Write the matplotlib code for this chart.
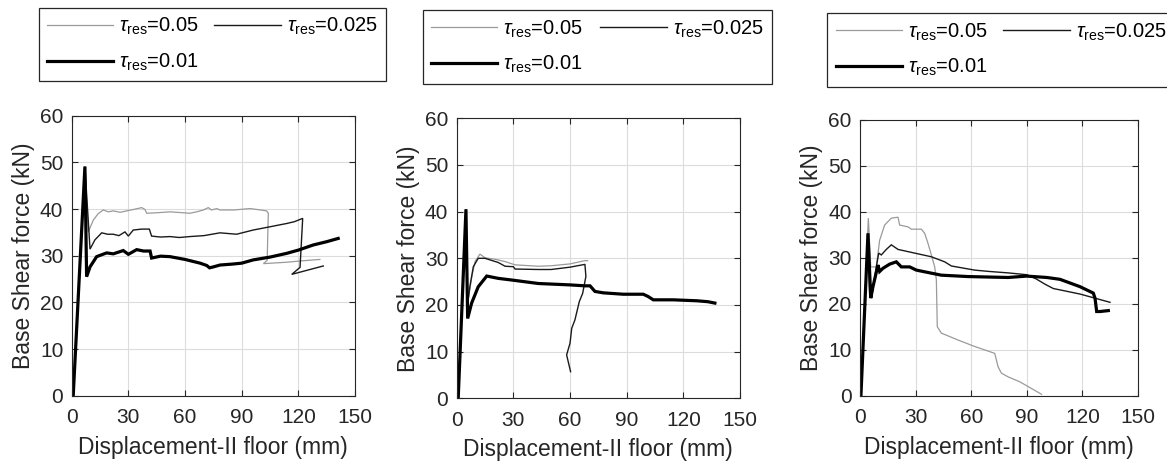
import matplotlib
matplotlib.use("Agg")
import matplotlib.pyplot as plt

plt.rcParams['font.family'] = ['Liberation Sans', 'DejaVu Sans']
plt.rcParams['mathtext.fontset'] = 'custom'
plt.rcParams['mathtext.rm'] = 'Liberation Sans'
plt.rcParams['mathtext.it'] = 'Liberation Sans:italic'

# ---------------- data ----------------
labels = [r'$\tau_{\rm res}$=0.05', r'$\tau_{\rm res}$=0.025', r'$\tau_{\rm res}$=0.01']
x_ticks = [0, 30, 60, 90, 120, 150]
y_ticks = [0, 10, 20, 30, 40, 50, 60]

# Panel 1
p1_x_005 = [0.8, 7.0, 8.8, 11.4, 14, 16.7, 19.4, 22.0, 25.6, 29.1, 32.6, 37.1, 38.8, 39.7, 45, 52, 59.1, 62.6,
            66.2, 69.7, 72.3, 74.1, 76.8, 78.5, 86, 94.4, 100, 103.2, 104.1, 103.5, 101.5, 113.8, 122, 131.4]
p1_y_005 = [0, 49.1, 35.1, 37.6, 39.0, 39.8, 39.4, 39.6, 39.3, 39.6, 39.9, 40.3, 39.9, 39.1, 39.2, 39.4, 39.2, 39.1,
            39.4, 39.8, 40.3, 39.8, 40.1, 39.8, 39.8, 40.1, 39.8, 39.6, 39.1, 29.0, 28.3, 28.6, 28.9, 29.2]
p1_x_0025 = [0.8, 7.0, 9.7, 12.3, 15.9, 19, 22, 25, 28.2, 30, 32.6, 37, 41.1, 42.3, 47, 52, 57, 62.6, 70, 78.5,
             87.3, 96.1, 105, 113.8, 118, 122.3, 120.9, 116.5, 133.2]
p1_y_0025 = [0, 49.1, 31.4, 33.4, 34.9, 34.6, 34.6, 34.3, 35.1, 34.2, 35.5, 35.7, 35.7, 34.2, 34.0, 34.1, 33.9, 34.1,
             34.3, 34.9, 34.6, 35.5, 36.2, 36.9, 37.3, 38.0, 27.5, 26.0, 27.8]
p1_x_001 = [0.8, 7.0, 7.9, 9.7, 13.2, 18.5, 22, 27.3, 30, 34.4, 38, 41.5, 42.3, 47, 52, 56, 60, 64, 68, 71.5, 73,
            75, 78.5, 85, 90, 96.1, 105, 113.8, 120, 127.9, 135, 141.1]
p1_y_001 = [0, 49.1, 25.5, 27.6, 29.8, 30.6, 30.4, 31.1, 30.3, 31.3, 31.0, 31.0, 29.5, 29.9, 29.8, 29.5, 29.2, 28.8,
            28.4, 27.9, 27.4, 27.6, 28.0, 28.2, 28.4, 29.1, 29.7, 30.5, 31.2, 32.3, 33.0, 33.7]

# Panel 2
p2_x_005 = [0.8, 4.9, 5.6, 8, 9.7, 12.3, 15, 20.3, 25.6, 30.9, 43.2, 50, 60, 67.9, 69.3]
p2_y_005 = [0, 40.5, 20.0, 26.0, 29.3, 30.9, 30.1, 29.8, 29.3, 28.6, 28.3, 28.4, 28.8, 29.5, 29.5]
p2_x_0025 = [0.8, 4.9, 5.6, 7, 8.8, 11.4, 15, 22, 25.6, 30, 30.9, 43.2, 50, 60, 67.9, 68.4, 66.7, 64.9, 62.6,
             60.9, 60, 58.2, 60.3]
p2_y_0025 = [0, 40.5, 19.5, 24.0, 28.2, 30.0, 30.0, 29.1, 28.3, 28.2, 27.7, 27.6, 27.6, 28.1, 28.7, 26.1, 22.5,
             20.7, 16.8, 15.0, 11.8, 9.3, 5.7]
p2_x_001 = [0.8, 4.9, 5.8, 7.9, 11.4, 15.9, 22, 30, 43.2, 60, 67.9, 70.6, 73.2, 77.6, 88.2, 98.8, 101.4, 104.1,
            114.7, 127, 133, 136.7]
p2_y_001 = [0, 40.5, 17.1, 20.4, 23.9, 26.2, 25.7, 25.3, 24.6, 24.3, 24.1, 24.1, 22.9, 22.6, 22.3, 22.3, 21.8,
            21.1, 21.1, 20.9, 20.7, 20.4]

# Panel 3
p3_x_005 = [0.5, 4.5, 5.8, 8.8, 10.6, 13.3, 16.9, 20.5, 21.4, 25.9, 27.7, 33.1, 34.9, 36.7, 38.5, 40.3, 41.2,
            41.7, 43.9, 52.9, 61.9, 72.7, 74.5, 76.3, 79.9, 86.3, 98]
p3_y_005 = [0, 38.6, 28.0, 28.0, 33.8, 37.1, 38.6, 38.8, 37.1, 36.7, 36.2, 36.2, 35.3, 33.1, 30.6, 28.0, 25.2,
            15.0, 13.6, 12.1, 10.7, 9.2, 6.3, 4.9, 4.1, 3.0, 0.3]
p3_x_0025 = [0.5, 4.3, 5.2, 6.5, 8.8, 10.1, 11.5, 14.2, 16.9, 20.5, 25, 29.5, 38.5, 45.7, 49.3, 61.9, 70, 79.9,
             90, 95, 100, 104.3, 118.7, 134.9]
p3_y_0025 = [0, 35.3, 22.3, 22.0, 28.0, 31.0, 30.6, 31.8, 32.8, 31.8, 31.4, 31.0, 30.2, 29.1, 28.2, 27.3, 27.0,
             26.7, 26.3, 25.4, 24.2, 23.3, 22.1, 20.3]
p3_x_001 = [0.5, 4.3, 5.8, 7, 9.7, 10.6, 12.4, 16, 19.6, 22.3, 26.8, 30.4, 43.9, 58.3, 79.9, 90, 100.8, 107.9,
            118.7, 125.9, 126.8, 127.7, 129.5, 134]
p3_y_001 = [0, 35.3, 21.2, 23.7, 28.4, 27.0, 27.7, 28.6, 29.1, 28.0, 28.0, 27.3, 26.2, 25.9, 25.7, 26.0, 25.7,
            25.3, 23.7, 22.3, 21.2, 18.3, 18.3, 18.5]

panels = [
    ((p1_x_005, p1_y_005), (p1_x_0025, p1_y_0025), (p1_x_001, p1_y_001)),
    ((p2_x_005, p2_y_005), (p2_x_0025, p2_y_0025), (p2_x_001, p2_y_001)),
    ((p3_x_005, p3_y_005), (p3_x_0025, p3_y_0025), (p3_x_001, p3_y_001)),
]

# ---------------- styles / layout ----------------
W, H = 1167, 463
ax_px = [(71.7, 115.7, 355.0, 395.7), (456.7, 118.3, 740.0, 398.3), (860.0, 119.7, 1138.0, 395.7)]
leg_px = [(38.7, 7.7, 386.0, 83.3), (422.7, 10.0, 771.7, 86.0), (827.3, 13.0, 1175.0, 88.0)]
colors = ['#9a9a9a', '#1a1a1a', '#000000']
widths = [0.9, 1.0, 2.3]

fig = plt.figure(figsize=(W / 100, H / 100), dpi=100)

for (series, (l, t, r, b), (ll, lt, lr, lb)) in zip(panels, ax_px, leg_px):
    ax = fig.add_axes([l / W, 1 - b / H, (r - l) / W, (b - t) / H])
    handles = []
    for (xs, ys), c, lw, lab in zip(series, colors, widths, labels):
        h, = ax.plot(xs, ys, color=c, lw=lw, label=lab, solid_joinstyle='miter')
        handles.append(h)
    ax.set_xlim(0, 150)
    ax.set_ylim(0, 60)
    ax.set_xticks(x_ticks)
    ax.set_yticks(y_ticks)
    ax.grid(True, color='#dcdcdc', lw=0.8)
    ax.set_axisbelow(True)
    ax.tick_params(direction='in', length=4, width=0.8, top=True, right=True,
                   labelsize=15, colors='#262626')
    ax.tick_params(axis='x', pad=9)
    ax.tick_params(axis='y', pad=6)
    for s in ax.spines.values():
        s.set_linewidth(0.8)
        s.set_color('#262626')
    ax.set_xlabel('Displacement-II floor (mm)', fontsize=16.5, color='#262626', labelpad=6)
    ax.set_ylabel('Base Shear force (kN)', fontsize=16.5, color='#262626', labelpad=3.5)
    order = [handles[0], handles[2], handles[1]]
    leg = ax.legend(order, [h.get_label() for h in order], ncol=2, loc='upper left',
                    bbox_to_anchor=(ll / W, 1 - lb / H, (lr - ll) / W, (lb - lt) / H),
                    bbox_transform=fig.transFigure, mode='expand', fontsize=14.5,
                    frameon=True, fancybox=False, edgecolor='#262626', framealpha=1,
                    handlelength=3.3, handletextpad=0.3, labelspacing=0.72,
                    borderpad=0.41, borderaxespad=0, columnspacing=1.0)
    leg.get_frame().set_linewidth(0.9)

fig.savefig('out.png', dpi=100)
